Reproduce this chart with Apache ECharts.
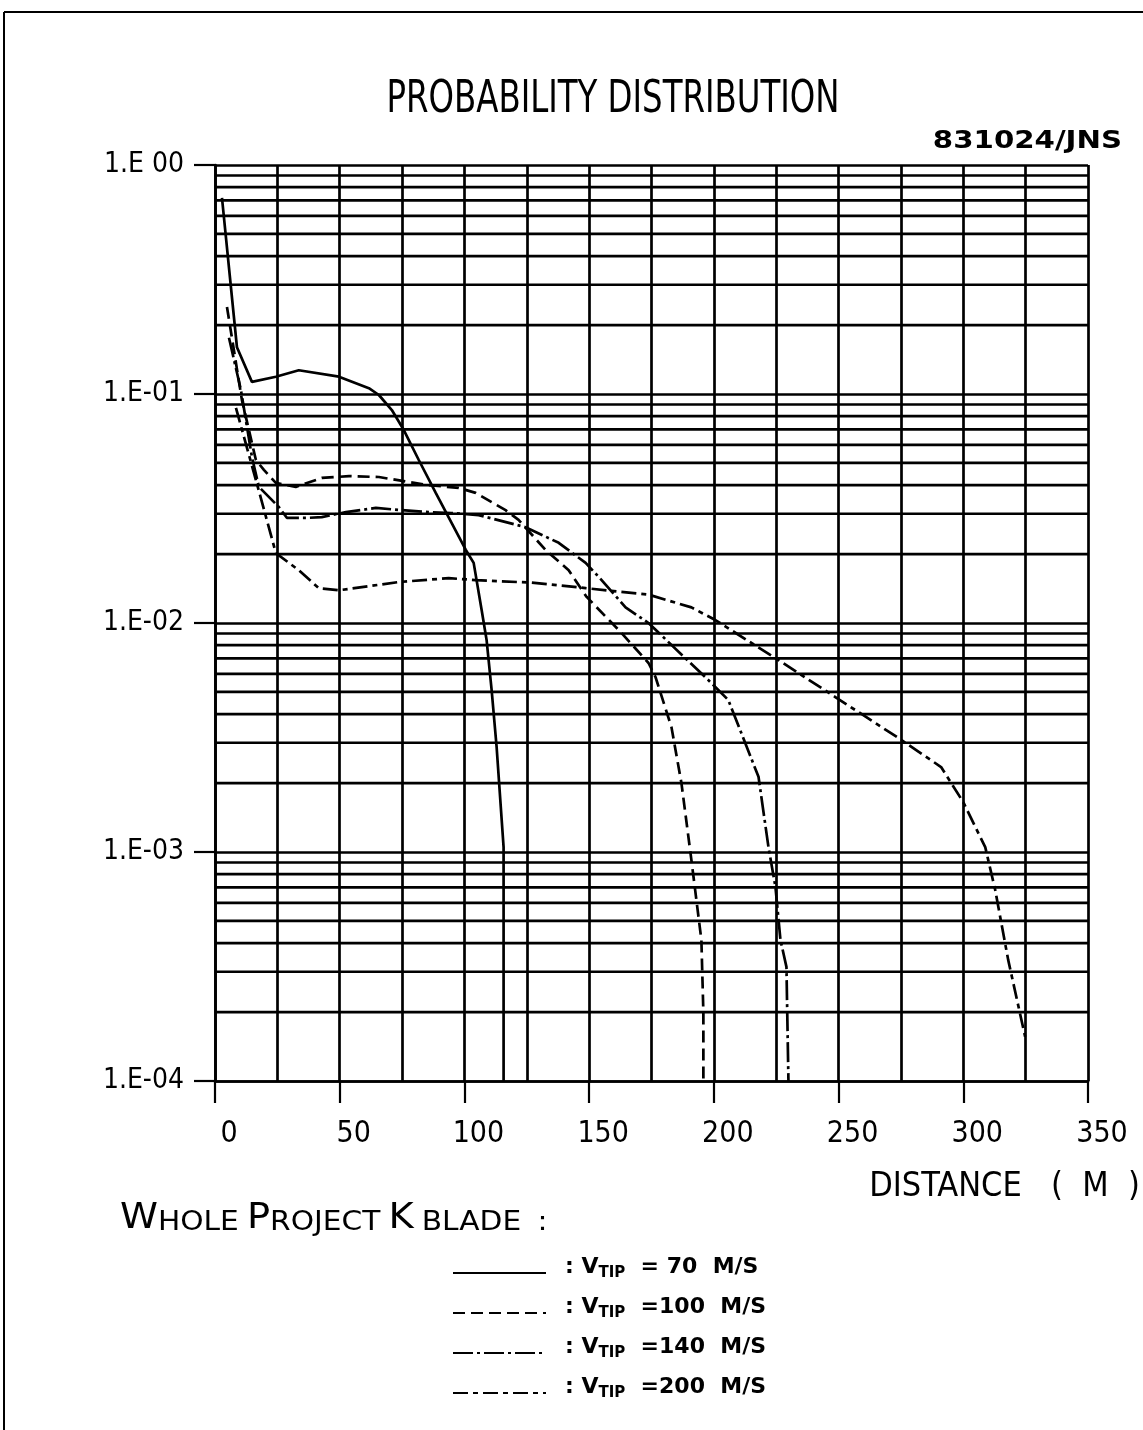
<!DOCTYPE html>
<html><head><meta charset="utf-8">
<script src="https://cdn.jsdelivr.net/npm/echarts@6/dist/echarts.min.js"></script>
<style>html,body{margin:0;padding:0;background:#fff}#c{width:1143px;height:1430px}</style>
</head><body><div id="c"></div>
<script>
const FONT = '"DejaVu Sans Condensed","Liberation Sans Narrow","DejaVu Sans",sans-serif';
const FONT_W = '"DejaVu Sans",sans-serif';

// ---- data (distance in m, probability) ----
const seriesNames = ['70', '100', '140', '200'];

const dist70 = [2.8, 8.8, 14.8, 24.4, 33.6, 49.7, 61.7, 65.7, 70.9, 75.7, 81.7, 88.5, 94.9, 100.5, 103.7, 106.9, 108.9, 110.9, 112.9, 115.7, 115.7];
const prob70 = [0.718, 0.160, 0.113, 0.119, 0.127, 0.119, 0.106, 0.099, 0.0851, 0.0696, 0.0515, 0.0370, 0.0273, 0.0209, 0.0183, 0.0114, 0.0084, 0.0051, 0.00288, 0.00105, 0.0001];

const dist100 = [4.8, 10.8, 16.4, 19.6, 24.4, 32.4, 42.8, 53.7, 65.7, 84.5, 97.7, 104.5, 116.5, 121.7, 132.6, 141.8, 149.0, 163.0, 173.8, 176.6, 183.0, 187.0, 191.0, 195.0, 195.8, 195.8];
const prob100 = [0.240, 0.094, 0.0515, 0.0466, 0.0409, 0.0393, 0.0430, 0.0438, 0.0434, 0.0401, 0.0389, 0.0370, 0.0311, 0.0282, 0.0208, 0.0170, 0.0130, 0.00904, 0.00669, 0.00581, 0.00351, 0.00200, 0.000922, 0.000413, 0.000198, 0.0001];

const dist140 = [5.6, 10.4, 14.8, 17.6, 25.6, 28.8, 37.6, 42.8, 52.5, 64.5, 74.9, 85.7, 94.9, 105.7, 124.5, 137.8, 148.6, 155.0, 164.6, 173.8, 199.0, 205.8, 217.9, 221.9, 224.7, 226.7, 229.1, 229.9];
const prob140 = [0.176, 0.104, 0.0531, 0.0393, 0.0321, 0.0288, 0.0288, 0.0290, 0.0305, 0.0318, 0.0311, 0.0305, 0.0302, 0.0296, 0.0262, 0.0224, 0.0183, 0.0154, 0.0117, 0.0100, 0.00547, 0.00461, 0.00213, 0.00105, 0.000703, 0.000413, 0.000315, 0.0001];

const dist200 = [8.4, 16.4, 24.4, 33.6, 41.6, 49.7, 73.7, 93.7, 104.5, 127.0, 148.6, 173.8, 191.0, 200.6, 225.9, 248.7, 275.1, 291.1, 300.0, 308.8, 312.8, 318.0, 324.8];
const prob200 = [0.0869, 0.0421, 0.0202, 0.0170, 0.0142, 0.0139, 0.0151, 0.0157, 0.0154, 0.0150, 0.0142, 0.0133, 0.0117, 0.0103, 0.00689, 0.00475, 0.00309, 0.00235, 0.00165, 0.00105, 0.000682, 0.000338, 0.000156];

// minor log grid lines (2..9 x each decade)
const minorY = [2e-4, 3e-4, 4e-4, 5e-4, 6e-4, 7e-4, 8e-4, 9e-4,
  2e-3, 3e-3, 4e-3, 5e-3, 6e-3, 7e-3, 8e-3, 9e-3,
  2e-2, 3e-2, 4e-2, 5e-2, 6e-2, 7e-2, 8e-2, 9e-2,
  0.2, 0.3, 0.4, 0.5, 0.6, 0.7, 0.8, 0.9];

const xMin = 0, xMax = 350, xStep = 50;
const titleText = 'PROBABILITY DISTRIBUTION';
const stampText = '831024/JNS';
const xName = 'DISTANCE   (  M  )';

function zip(a, b) { return a.map((v, i) => [v, b[i]]); }

const dashes = {
  '70': 'solid',
  '100': [12, 6],
  '140': [20, 4, 3, 4],
  '200': [15, 5, 5, 5]
};
const dataSets = { '70': [dist70, prob70], '100': [dist100, prob100], '140': [dist140, prob140], '200': [dist200, prob200] };
const GW = 2.7;

const series = seriesNames.map(n => ({
  name: n, type: 'line', symbol: 'none', smooth: false, animation: false, z: 3,
  data: zip(dataSets[n][0], dataSets[n][1]),
  lineStyle: { color: '#000', width: 2.7, type: dashes[n] },
  itemStyle: { color: '#000' },
  emphasis: { disabled: true }, silent: true
}));

// helper series: minor horizontal grid lines drawn through the y scale
const gridData = [];
minorY.forEach(v => { gridData.push([xMin, v], [xMax, v], '-'); });
series.push({
  name: 'minorGrid', type: 'line', symbol: 'none', silent: true, animation: false, z: 1,
  connectNulls: false, data: gridData,
  lineStyle: { color: '#000', width: GW, type: 'solid' },
  emphasis: { disabled: true }, tooltip: { show: false }
});

const chart = echarts.init(document.getElementById('c'), null, { renderer: 'canvas' });
const gridLine = { color: '#000', width: GW };

chart.setOption({
  animation: false,
  backgroundColor: '#fff',
  grid: { left: 215, right: 52, top: 165, bottom: 349, containLabel: false },
  xAxis: {
    type: 'value', min: xMin, max: xMax, interval: xStep,
    axisLine: { show: true, lineStyle: gridLine },
    axisTick: { show: true, length: 22, lineStyle: { color: '#000', width: 2.2 } },
    axisLabel: { color: '#000', fontFamily: FONT, fontSize: 30, margin: 38, padding: [0, 0, 0, 28] },
    splitLine: { show: true, lineStyle: gridLine },
    minorTick: { show: false, splitNumber: 2 },
    minorSplitLine: { show: true, lineStyle: gridLine },
    name: xName, nameLocation: 'end', nameGap: 52,
    nameTextStyle: { color: '#000', fontFamily: FONT, fontSize: 34, align: 'right', verticalAlign: 'top', padding: [89, 0, 0, 0] }
  },
  yAxis: {
    type: 'log', logBase: 10, min: 0.0001, max: 1,
    axisLine: { show: true, lineStyle: gridLine },
    axisTick: { show: true, length: 21, lineStyle: { color: '#000', width: 2.2 } },
    axisLabel: {
      color: '#000', fontFamily: FONT, fontSize: 28, margin: 31,
      formatter: v => { const e = Math.round(Math.log10(v)); return e === 0 ? '1.E 00' : '1.E-0' + (-e); }
    },
    splitLine: { show: true, lineStyle: gridLine },
    minorSplitLine: { show: false }
  },
  legend: {
    orient: 'vertical', left: 452, top: 1256, padding: 0, itemWidth: 93, itemHeight: 16, itemGap: 15,
    selectedMode: false, data: seriesNames,
    itemStyle: { color: 'rgba(0,0,0,0)', borderWidth: 0, borderColor: 'rgba(0,0,0,0)' },
    formatter: n => '{c|:} {v|V}{s|TIP}  {t|=' + (n.length < 3 ? ' ' : '') + n + '  M/S}',
    textStyle: {
      color: '#000', fontFamily: FONT_W, fontSize: 22, fontWeight: 'bold', padding: [0, 0, 12, 0],
      rich: {
        c: { fontSize: 22, fontWeight: 'bold', fontFamily: FONT_W, padding: [0, 0, 0, 14], verticalAlign: 'bottom' },
        v: { fontSize: 22, fontWeight: 'bold', fontFamily: FONT_W, verticalAlign: 'bottom' },
        s: { fontSize: 15, fontWeight: 'bold', fontFamily: FONT_W, verticalAlign: 'bottom', padding: [0, 0, -3, 0] },
        t: { fontSize: 22, fontWeight: 'bold', fontFamily: FONT_W, verticalAlign: 'bottom' }
      }
    }
  },
  graphic: [
    { type: 'line', silent: true, shape: { x1: 4, y1: 12, x2: 1143, y2: 12 }, style: { stroke: '#000', lineWidth: 2 } },
    { type: 'line', silent: true, shape: { x1: 4, y1: 12, x2: 4, y2: 1430 }, style: { stroke: '#000', lineWidth: 2 } },
    { type: 'text', silent: true, x: 613, y: 100, scaleY: 1.25,
      style: { text: titleText, fontFamily: FONT, fontSize: 36, fill: '#000', align: 'center', textAlign: 'center', verticalAlign: 'middle', textVerticalAlign: 'middle' } },
    { type: 'text', silent: true, x: 1122, y: 141, scaleX: 1.3,
      style: { text: stampText, fontFamily: FONT, fontSize: 25, fontWeight: 'bold', fill: '#000', align: 'right', textAlign: 'right', verticalAlign: 'middle', textVerticalAlign: 'middle' } },
    { type: 'text', silent: true, x: 120, y: 1236, scaleX: 1.22,
      style: {
        text: '{b|W}{s|HOLE}  {b|P}{s|ROJECT}  {b|K}  {s|BLADE}    {s|:}',
        fill: '#000', align: 'left', textAlign: 'left', verticalAlign: 'bottom', textVerticalAlign: 'bottom',
        rich: {
          b: { fontFamily: FONT, fontSize: 35, fill: '#000', verticalAlign: 'bottom' },
          s: { fontFamily: FONT, fontSize: 27, fill: '#000', verticalAlign: 'bottom' }
        }
      } }
  ],
  series: series
});
</script></body></html>
